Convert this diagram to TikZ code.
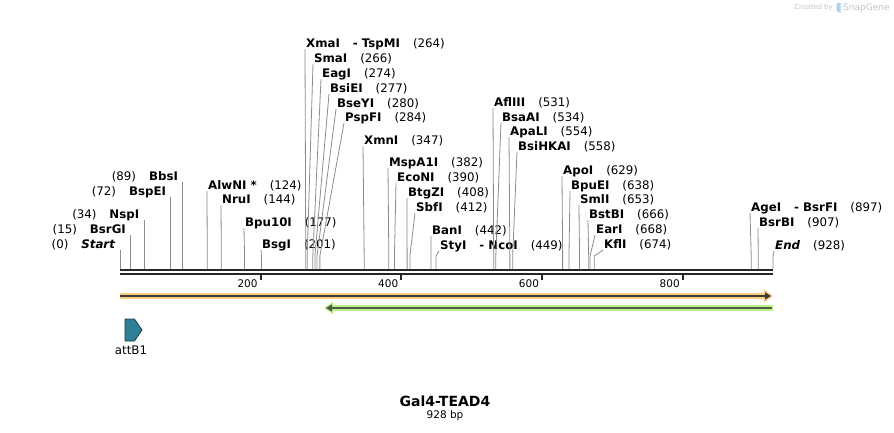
\documentclass[tikz,border=0pt]{standalone}
\usepackage{fontspec}
\setmainfont{DejaVu Sans}
\usetikzlibrary{arrows.meta}

\definecolor{cutgray}{HTML}{8C8C8C}
\definecolor{rulerblk}{HTML}{262626}
\definecolor{orgband}{HTML}{F9CB7E}
\definecolor{orgline}{HTML}{3C3A36}
\definecolor{grnband}{HTML}{BDEE8A}
\definecolor{grnline}{HTML}{4E5E46}
\definecolor{attfill}{HTML}{2F7F97}
\definecolor{attdraw}{HTML}{1C3D4A}
\definecolor{wmgray}{HTML}{C4C4C4}
\definecolor{wmblue}{HTML}{A9D3EE}

\newcommand\lgap{\hspace{13pt}}

\begin{document}
\begin{tikzpicture}[x=1pt,y=-1pt,
    every node/.style={inner sep=0pt,font=\fontsize{11.8}{14}\selectfont},
    er/.style={anchor=base west},
    el/.style={anchor=base east},
    cut/.style={draw=cutgray,line width=0.8pt},
    rul/.style={draw=rulerblk,line width=2.2pt},
    tk/.style={draw=rulerblk,line width=2pt},
    tklbl/.style={anchor=base east,font=\fontsize{10.5}{12}\selectfont},
]
    \useasboundingbox (0,0) rectangle (894,432);
    % ~~~ ruler ~~~~~~~~~~~~
    \coordinate (rs) at (120,270);
    \coordinate (re) at (773,270);
    \draw[rul] (rs) -- (re);
    \draw[rul] ([yshift=-4pt]rs) -- ([yshift=-4pt]re);
    \foreach \t [evaluate=\t as \xt using 120+0.7037*\t] in {200,400,600,800}{
        \coordinate (k\t) at (\xt,274);
        \draw[tk] (k\t) -- ++(0,6);
        \node[tklbl] (kl\t) at ([xshift=-3pt]k\t |- 0,287) {\t};
    }
    % ~~~ cut sites, labels on the left ~~~~~~~~~~~~
    \foreach \n/\b/\yb [evaluate=\b as \xb using 120+0.7037*\b] in {
        {\textit{Start}}/0/248,
        BsrGI/15/233,
        NspI/34/218,
        BspEI/72/195,
        BbsI/89/180}{
        \coordinate (r\b) at (\xb,269);
        \node[el] (e\b) at (\xb-4.5,\yb) {(\b)\lgap\textbf{\n}};
        \draw[cut] (r\b) -- ([shift={(4.5pt,-2pt)}]e\b.base east);
    }
    % ~~~ cut sites, labels on the right ~~~~~~~~~~~~
    \foreach \n/\b/\xt/\yb [evaluate=\b as \xb using 120+0.7037*\b] in {
        {AlwNI *}/124/208/189,
        NruI/144/222/203,
        Bpu10I/177/245/226,
        BsgI/201/262/248,
        {XmaI\lgap- TspMI}/264/306/47,
        SmaI/266/314/62,
        EagI/274/322/77,
        BsiEI/277/330/92,
        BseYI/280/337/107,
        PspFI/284/345/121,
        XmnI/347/364/144,
        MspA1I/382/389/166,
        EcoNI/390/397/181,
        BtgZI/408/408/196,
        SbfI/412/416/211,
        BanI/442/432/234,
        {StyI\lgap- NcoI}/449/440/249,
        AflIII/531/494/106,
        BsaAI/534/502/121,
        ApaLI/554/510/135,
        BsiHKAI/558/518/150,
        ApoI/629/563/174,
        BpuEI/638/571/189,
        SmlI/653/580/203,
        BstBI/666/589/218,
        EarI/668/596/233,
        KflI/674/604/248,
        {AgeI\lgap- BsrFI}/897/751/211,
        BsrBI/907/759/226,
        {\textit{End}}/928/775/249}{
        \coordinate (r\b) at (\xb,269);
        \node[er] (e\b) at (\xt,\yb) {\textbf{\n}\lgap(\b)};
        \draw[cut] (r\b) -- ++(0,-13) -- ([shift={(-1pt,-2pt)}]e\b.base west);
    }
    % ~~~ features ~~~~~~~~~~~~
    \coordinate (os) at (120,296);
    \coordinate (oe) at (773,296);
    \draw[orgband,line width=6pt,-{Triangle[length=9pt,width=12pt]}] (os) -- (oe);
    \draw[orgline,line width=1.8pt,-{Triangle[length=6pt,width=7pt]}] (os) -- ([xshift=-2pt]oe);
    \coordinate (gs) at (324,308);
    \coordinate (ge) at (773,308);
    \draw[grnband,line width=6pt,{Triangle[length=9pt,width=12pt]}-] (gs) -- (ge);
    \draw[grnline,line width=1.8pt,{Triangle[length=6pt,width=7pt]}-] ([xshift=2pt]gs) -- ([xshift=-1pt]ge);
    \draw[fill=attfill,draw=attdraw,line width=0.8pt,line join=round]
        (125,319) -- (134.5,319) -- (142,330) -- (134.5,341) -- (125,341) -- cycle;
    \node (att) at (131,350) {attB1};
    % ~~~ title ~~~~~~~~~~~~
    \node[font=\fontsize{14}{16}\bfseries\selectfont] (ttl) at (445,401) {Gal4-TEAD4};
    \node[font=\fontsize{10.5}{12}\selectfont] (len) at (445,416) {928 bp};
    % ~~~ watermark ~~~~~~~~~~~~
    \node[anchor=east,text=wmgray,font=\fontsize{7}{8}\selectfont] (wma) at (833,8) {Created by};
    \fill[wmblue] (836.5,3) -- (840.5,3) -- (840.5,13) -- (836.5,11) -- cycle;
    \node[anchor=west,text=wmgray,font=\fontsize{9}{10}\selectfont] (wmb) at (843,8) {SnapGene};
\end{tikzpicture}
\end{document}
